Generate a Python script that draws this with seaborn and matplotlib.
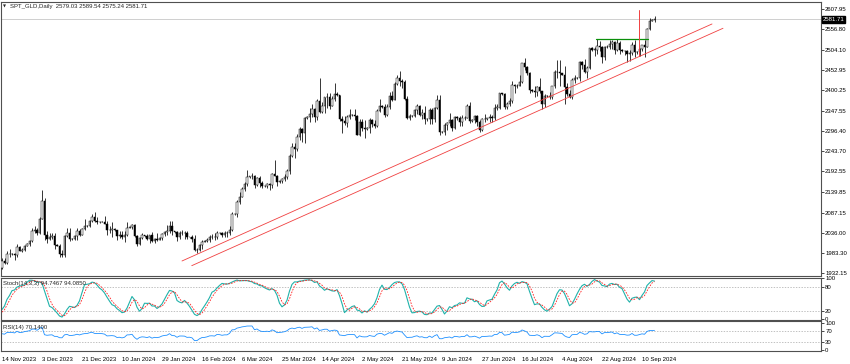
import matplotlib
matplotlib.use("Agg")
import matplotlib.pyplot as plt
import seaborn as sns
import numpy as np
import pandas as pd

# ---------------- data ----------------
# warm-up bars before the first visible bar (only feed the indicators)
warm_open = [1833, 1850, 1861, 1861, 1874, 1868, 1932, 1926, 1919, 1923, 1947, 1974,
             1981, 1979, 1973, 1970, 1979, 1985, 2006, 2004, 1996, 1983, 1983, 1985,
             1992, 1990, 1977, 1969, 1950, 1958, 1940, 1939]
warm_high = [1855, 1865, 1867, 1876, 1885, 1933, 1935, 1938, 1936, 1962, 1980, 1997,
             1984, 1980, 1977, 1986, 1990, 2009, 2009, 2009, 2008, 1988, 1994, 2003,
             1994, 1993, 1982, 1971, 1965, 1960, 1942, 1947]
warm_low = [1832, 1845, 1853, 1857, 1859, 1867, 1924, 1909, 1908, 1922, 1942, 1965,
            1976, 1961, 1954, 1962, 1971, 1981, 2000, 1990, 1978, 1970, 1979, 1981,
            1988, 1974, 1956, 1947, 1944, 1931, 1937, 1932]
warm_close = [1850, 1861, 1861, 1874, 1868, 1932, 1926, 1919, 1923, 1947, 1974, 1981,
              1979, 1973, 1970, 1979, 1985, 2006, 2004, 1996, 1983, 1983, 1985, 1992,
              1990, 1977, 1969, 1950, 1958, 1940, 1939, 1946]

# visible daily bars, 14 Nov 2023 .. 16 Sep 2024 (one row per week)
bar_open = [
    1946, 1963, 1959, 1981,
    1981, 1982, 1978, 1999, 1990, 1992,
    2002, 2008, 2014, 2041, 2044, 2036,
    2072, 2118, 2029, 2019, 2025, 2028,
    2004, 2003, 1981, 1980, 2027, 2036,
    2019, 2020, 2027, 2040, 2031, 2045,
    2053, 2054, 2067, 2077, 2065,
    2063, 2064, 2063, 2059, 2042, 2043,
    2045, 2042, 2028, 2030, 2024, 2029,
    2049, 2050, 2055, 2028, 2006, 2023,
    2029, 2027, 2021, 2029, 2014, 2021,
    2018, 2022, 2032, 2037, 2039, 2054,
    2039, 2038, 2024, 2035, 2035, 2034,
    2024, 2025, 2020, 1992, 1992, 2004,
    2013, 2014, 2018, 2025, 2026, 2024,
    2036, 2035, 2031, 2034, 2034, 2044,
    2083, 2085, 2115, 2128, 2148, 2160,
    2179, 2180, 2182, 2158, 2175, 2162,
    2155, 2156, 2160, 2157, 2187, 2181,
    2165, 2168, 2172, 2179, 2194,
    2233, 2255, 2250, 2280, 2300, 2290,
    2329, 2332, 2339, 2352, 2333, 2372,
    2344, 2360, 2383, 2383, 2361, 2379,
    2391, 2387, 2327, 2322, 2316, 2332,
    2337, 2336, 2335, 2286, 2320, 2304,
    2301, 2303, 2323, 2314, 2309, 2346,
    2360, 2357, 2336, 2358, 2385, 2376,
    2415, 2432, 2425, 2420, 2379, 2329,
    2334, 2335, 2350, 2360, 2338, 2343,
    2327, 2326, 2350, 2327, 2355, 2376,
    2294, 2293, 2311, 2316, 2324, 2303,
    2333, 2328, 2319, 2330, 2328, 2360,
    2322, 2324, 2334, 2320, 2298, 2327,
    2326, 2328, 2332, 2330, 2356, 2356,
    2392, 2390, 2358, 2364, 2372, 2414,
    2411, 2412, 2422, 2469, 2459, 2445,
    2400, 2398, 2396, 2409, 2397, 2364,
    2386, 2385, 2384, 2410, 2447, 2446,
    2443, 2440, 2409, 2390, 2382, 2427,
    2431, 2432, 2472, 2465, 2447, 2456,
    2508, 2504, 2504, 2514, 2512, 2485,
    2512, 2511, 2518, 2524, 2504, 2521,
    2503, 2500, 2500, 2493, 2495, 2517,
    2497, 2497, 2506, 2516, 2512, 2558,
    2578, 2579.03]
bar_high = [
    1971, 1970, 1988, 1994,
    1984, 1984, 2007, 2003, 1996, 2004,
    2010, 2018, 2048, 2052, 2047, 2075,
    2146, 2125, 2040, 2036, 2035, 2034,
    2007, 2006, 1991, 2030, 2048, 2047,
    2022, 2031, 2047, 2045, 2049, 2071,
    2056, 2069, 2084, 2088, 2075,
    2066, 2066, 2079, 2065, 2052, 2064,
    2047, 2044, 2040, 2041, 2040, 2062,
    2052, 2059, 2058, 2031, 2025, 2035,
    2031, 2033, 2031, 2037, 2023, 2036,
    2024, 2036, 2040, 2055, 2065, 2065,
    2041, 2040, 2040, 2043, 2040, 2039,
    2026, 2030, 2031, 1998, 2007, 2016,
    2016, 2022, 2031, 2033, 2035, 2041,
    2038, 2037, 2039, 2039, 2052, 2088,
    2087, 2119, 2141, 2152, 2165, 2195,
    2182, 2189, 2184, 2178, 2180, 2167,
    2158, 2164, 2164, 2189, 2223, 2183,
    2170, 2175, 2185, 2199, 2236,
    2265, 2265, 2288, 2305, 2304, 2331,
    2335, 2354, 2365, 2354, 2378, 2431,
    2370, 2384, 2393, 2392, 2385, 2418,
    2395, 2388, 2335, 2335, 2338, 2352,
    2339, 2353, 2336, 2326, 2326, 2325,
    2305, 2330, 2327, 2324, 2351, 2378,
    2362, 2364, 2365, 2395, 2398, 2422,
    2440, 2450, 2430, 2427, 2385, 2340,
    2337, 2352, 2364, 2362, 2351, 2360,
    2330, 2354, 2355, 2358, 2388, 2387,
    2297, 2316, 2318, 2342, 2326, 2335,
    2335, 2334, 2336, 2335, 2365, 2369,
    2326, 2336, 2338, 2325, 2330, 2340,
    2330, 2339, 2336, 2365, 2364, 2393,
    2394, 2392, 2370, 2381, 2424, 2417,
    2415, 2440, 2469, 2483, 2462, 2447,
    2403, 2412, 2412, 2432, 2399, 2390,
    2389, 2395, 2412, 2451, 2477, 2477,
    2445, 2461, 2419, 2401, 2432, 2438,
    2434, 2474, 2474, 2479, 2463, 2509,
    2510, 2510, 2531, 2526, 2514, 2513,
    2515, 2528, 2528, 2526, 2531, 2526,
    2505, 2504, 2504, 2503, 2523, 2529,
    2500, 2508, 2517, 2529, 2560, 2586,
    2582, 2589.54]
bar_low = [
    1944, 1956, 1956, 1975,
    1978, 1965, 1975, 1988, 1987, 1989,
    2001, 2001, 2012, 2036, 2031, 2032,
    2070, 2018, 2010, 2016, 2020, 1995,
    2001, 1975, 1975, 1973, 2026, 2015,
    2016, 2016, 2017, 2027, 2029, 2044,
    2051, 2051, 2063, 2064, 2058,
    2061, 2062, 2057, 2031, 2034, 2024,
    2040, 2016, 2022, 2021, 2013, 2028,
    2047, 2046, 2024, 2002, 2004, 2020,
    2026, 2016, 2010, 2011, 2009, 2015,
    2017, 2016, 2028, 2030, 2034, 2030,
    2036, 2014, 2021, 2030, 2020, 2020,
    2022, 2012, 1990, 1984, 1990, 1995,
    2011, 2011, 2013, 2020, 2016, 2021,
    2033, 2025, 2024, 2025, 2031, 2039,
    2080, 2076, 2110, 2127, 2142, 2155,
    2176, 2172, 2150, 2156, 2153, 2150,
    2152, 2150, 2146, 2151, 2180, 2155,
    2164, 2163, 2168, 2172, 2186,
    2230, 2228, 2244, 2272, 2268, 2266,
    2326, 2320, 2331, 2319, 2325, 2342,
    2342, 2343, 2355, 2352, 2359, 2372,
    2385, 2322, 2292, 2311, 2306, 2326,
    2334, 2325, 2285, 2282, 2295, 2277,
    2298, 2292, 2307, 2303, 2306, 2344,
    2355, 2332, 2335, 2353, 2373, 2374,
    2414, 2410, 2407, 2374, 2326, 2325,
    2331, 2331, 2340, 2334, 2326, 2314,
    2322, 2314, 2314, 2319, 2352, 2287,
    2290, 2286, 2299, 2309, 2295, 2302,
    2325, 2310, 2308, 2323, 2328, 2316,
    2319, 2316, 2310, 2293, 2296, 2319,
    2324, 2318, 2318, 2325, 2350, 2353,
    2388, 2353, 2352, 2359, 2367, 2392,
    2405, 2410, 2418, 2452, 2438, 2393,
    2396, 2384, 2385, 2394, 2353, 2358,
    2383, 2379, 2379, 2406, 2432, 2410,
    2438, 2364, 2385, 2380, 2379, 2418,
    2428, 2425, 2455, 2444, 2431, 2454,
    2500, 2488, 2492, 2501, 2471, 2478,
    2509, 2505, 2506, 2494, 2500, 2493,
    2497, 2490, 2472, 2476, 2490, 2485,
    2494, 2488, 2500, 2485, 2511, 2554,
    2576, 2575.24]
bar_close = [
    1963, 1959, 1981, 1981,
    1982, 1978, 1999, 1990, 1992, 2002,
    2008, 2014, 2041, 2044, 2036, 2072,
    2118, 2029, 2019, 2025, 2028, 2004,
    2003, 1981, 1980, 2027, 2036, 2019,
    2020, 2027, 2040, 2031, 2045, 2053,
    2054, 2067, 2077, 2065, 2063,
    2064, 2063, 2059, 2042, 2043, 2045,
    2042, 2028, 2030, 2024, 2029, 2049,
    2050, 2055, 2028, 2006, 2023, 2029,
    2027, 2021, 2029, 2014, 2021, 2018,
    2022, 2032, 2037, 2039, 2054, 2039,
    2038, 2024, 2035, 2035, 2034, 2024,
    2025, 2020, 1992, 1992, 2004, 2013,
    2014, 2018, 2025, 2026, 2024, 2036,
    2035, 2031, 2034, 2034, 2044, 2083,
    2085, 2115, 2128, 2148, 2160, 2179,
    2180, 2182, 2158, 2175, 2162, 2155,
    2156, 2160, 2157, 2187, 2181, 2165,
    2168, 2172, 2179, 2194, 2233,
    2255, 2250, 2280, 2300, 2290, 2329,
    2332, 2339, 2352, 2333, 2372, 2344,
    2360, 2383, 2383, 2361, 2379, 2391,
    2387, 2327, 2322, 2316, 2332, 2337,
    2336, 2335, 2286, 2320, 2304, 2301,
    2303, 2323, 2314, 2309, 2346, 2360,
    2357, 2336, 2358, 2385, 2376, 2415,
    2432, 2425, 2420, 2379, 2329, 2334,
    2335, 2350, 2360, 2338, 2343, 2327,
    2326, 2350, 2327, 2355, 2376, 2294,
    2293, 2311, 2316, 2324, 2303, 2333,
    2328, 2319, 2330, 2328, 2360, 2322,
    2324, 2334, 2320, 2298, 2327, 2326,
    2328, 2332, 2330, 2356, 2356, 2392,
    2390, 2358, 2364, 2372, 2414, 2411,
    2412, 2422, 2469, 2459, 2445, 2400,
    2398, 2396, 2409, 2397, 2364, 2386,
    2385, 2384, 2410, 2447, 2446, 2443,
    2440, 2409, 2390, 2382, 2427, 2431,
    2432, 2472, 2465, 2447, 2456, 2508,
    2504, 2504, 2514, 2512, 2485, 2512,
    2511, 2518, 2524, 2504, 2521, 2503,
    2500, 2500, 2493, 2495, 2517, 2497,
    2497, 2506, 2516, 2512, 2558, 2578,
    2579, 2581.71]

date_labels = ["14 Nov 2023", "3 Dec 2023", "21 Dec 2023", "10 Jan 2024", "29 Jan 2024",
               "16 Feb 2024", "6 Mar 2024", "25 Mar 2024", "14 Apr 2024", "2 May 2024",
               "21 May 2024", "9 Jun 2024", "27 Jun 2024", "16 Jul 2024", "4 Aug 2024",
               "22 Aug 2024", "10 Sep 2024"]
price_ticks = [2607.95, 2556.80, 2504.10, 2452.95, 2400.25, 2347.55, 2296.40,
               2243.70, 2192.55, 2139.85, 2087.15, 2036.00, 1983.30, 1932.15]

# drawn objects (bar index, price)
channel_upper_x = [72.0, 284.0]
channel_upper_y = [1963.6, 2569.6]
channel_lower_x = [75.9, 288.4]
channel_lower_y = [1951.6, 2558.6]
green_x = [237.6, 258.4]
green_y = [2531, 2531]
event_x = [254.6, 254.6]
event_y = [2489, 2605]

header = "SPT_GLD,Daily  2579.03 2589.54 2575.24 2581.71"
stoch_title = "Stoch(14,3,3) 94.7467 94.0850"
rsi_title = "RSI(14) 70.1400"

# ---------------- indicators ----------------
n_warm = len(warm_close)
df = pd.DataFrame({
    "open": warm_open + bar_open,
    "high": warm_high + bar_high,
    "low": warm_low + bar_low,
    "close": warm_close + bar_close,
})
hh = df["high"].rolling(14).max()
ll = df["low"].rolling(14).min()
num = (df["close"] - ll).rolling(3).sum()
den = (hh - ll).rolling(3).sum()
df["k"] = 100 * num / den
df["d"] = df["k"].rolling(3).mean()

delta = df["close"].diff()
gain = delta.clip(lower=0).ewm(alpha=1 / 14, adjust=False).mean()
loss = (-delta.clip(upper=0)).ewm(alpha=1 / 14, adjust=False).mean()
df["rsi"] = 100 - 100 / (1 + gain / loss)

df = df.iloc[n_warm:].reset_index(drop=True)
df["idx"] = np.arange(len(df))

# ---------------- figure ----------------
sns.set_style("white")
plt.rcParams['font.family'] = ['Liberation Sans', 'DejaVu Sans']
FS = 4.3
W, H = 850, 364
fig = plt.figure(figsize=(W / 100, H / 100), dpi=100)


def px_axes(x0, y0, x1, y1):
    return fig.add_axes([x0 / W, 1 - y1 / H, (x1 - x0) / W, (y1 - y0) / H])


ax = px_axes(1, 2, 821, 276)
ax_st = px_axes(1, 278, 821, 319.5, )
ax_rsi = px_axes(1, 321, 821, 351)

xlim = (-0.4, 327.6)
frame = "#505050"
for a in (ax, ax_st, ax_rsi):
    a.set_xlim(*xlim)
    for s in a.spines.values():
        s.set_color(frame)
        s.set_linewidth(0.8)
    a.yaxis.tick_right()
    a.tick_params(axis="y", direction="out", length=2, width=0.5, pad=1,
                  labelsize=FS, colors="black")
    a.tick_params(axis="x", length=0)
    a.set_xticks([])

# candles
up = df["close"] >= df["open"]
ax.vlines(df["idx"], df["low"], df["high"], color="black", lw=0.55, zorder=2)
body = (df["close"] - df["open"]).abs().clip(lower=0.8)
bottom = df[["open", "close"]].min(axis=1)
ax.bar(df["idx"][up], body[up], bottom=bottom[up], width=0.62, color="white",
       edgecolor="black", linewidth=0.35, zorder=3)
ax.bar(df["idx"][~up], body[~up], bottom=bottom[~up], width=0.62, color="black",
       edgecolor="black", linewidth=0.35, zorder=3)

ax.set_ylim(1925.2, 2625.8)
ax.set_yticks(price_ticks)
ax.set_yticklabels([f"{v:.2f}" for v in price_ticks])

# bid line and price label
last = bar_close[-1]
ax.axhline(last, color="#C8C8C8", lw=0.6, zorder=1)
ax.text(1.002, last, f"{last:.2f}", transform=ax.get_yaxis_transform(),
        fontsize=FS, color="white", va="center", ha="left",
        bbox=dict(boxstyle="square,pad=0.15", fc="black", ec="black"), zorder=10,
        clip_on=False)

# drawn objects
ax.plot(channel_upper_x, channel_upper_y, color="#F04040", lw=0.6, zorder=4)
ax.plot(channel_lower_x, channel_lower_y, color="#F04040", lw=0.6, zorder=4)
ax.plot(green_x, green_y, color="#0A8F0A", lw=0.9, zorder=4)
ax.plot(event_x, event_y, color="#F04040", lw=0.7, zorder=4)

fig.text(3 / W, 1 - 6.5 / H, "\u25BC", fontsize=2.8, va="center", ha="left",
         family="DejaVu Sans")
fig.text(10 / W, 1 - 6.5 / H, header, fontsize=FS, va="center", ha="left")

# stochastic
lvl = dict(color="#A8A8A8", lw=0.5, ls=(0, (2, 2)), zorder=1)
ax_st.axhline(80, **lvl)
ax_st.axhline(20, **lvl)
sns.lineplot(x=df["idx"], y=df["k"], ax=ax_st, color="#20B2AA", lw=0.8)
sns.lineplot(x=df["idx"], y=df["d"], ax=ax_st, color="#FF2020", lw=0.6,
             linestyle=(0, (2, 1.5)))
ax_st.set_ylim(-1, 101)
ax_st.set_yticks([100, 80, 20, 0])
ax_st.set_yticklabels(["100", "80", "20", "0"])
ax_st.set_xlabel("")
ax_st.set_ylabel("")
ax_st.text(0.003, 0.86, stoch_title, transform=ax_st.transAxes, fontsize=FS,
           va="center", ha="left")

# RSI
ax_rsi.axhline(70, **lvl)
ax_rsi.axhline(30, **lvl)
sns.lineplot(x=df["idx"], y=df["rsi"], ax=ax_rsi, color="#1E90FF", lw=0.6)
ax_rsi.set_ylim(-3.6, 105.5)
ax_rsi.set_yticks([100, 70, 30, 0])
ax_rsi.set_yticklabels(["100", "70", "30", "0"])
ax_rsi.set_xlabel("")
ax_rsi.set_ylabel("")
ax_rsi.text(0.003, 0.80, rsi_title, transform=ax_rsi.transAxes, fontsize=FS,
            va="center", ha="left")

# date axis
ax_rsi.set_xticks(np.arange(len(date_labels)) * 16)
ax_rsi.set_xticklabels(date_labels, ha="left")
ax_rsi.tick_params(axis="x", direction="out", length=2.5, width=0.5, pad=1.5,
                   labelsize=FS, colors="black")
ax_rsi.set_xlim(*xlim)

fig.savefig("out.png", dpi=100, facecolor="white")
